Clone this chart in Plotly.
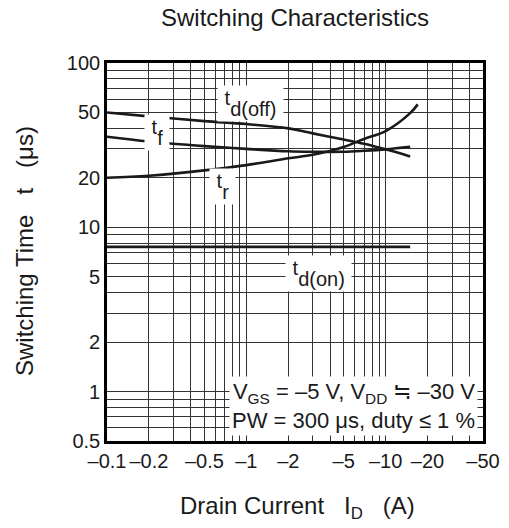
import math

import plotly.graph_objects as go

# |I_D| in A, switching times in microseconds
id_toff = [0.1, 0.2, 0.5, 1, 2, 3, 5, 7, 10, 15]
t_doff = [50, 47.3, 44.3, 42.5, 40, 37.3, 34.2, 32.2, 29.8, 27]

id_tf = [0.1, 0.2, 0.5, 1, 2, 3, 5, 7, 10, 15]
t_f = [35.6, 33.3, 31.2, 30.0, 29.0, 28.8, 28.8, 29.2, 29.8, 30.9]

id_tr = [0.1, 0.2, 0.5, 1, 2, 3, 5, 7, 10, 15, 17]
t_r = [20, 20.6, 22.2, 23.9, 26.3, 27.6, 30.8, 34.5, 38.5, 49.5, 56]

id_ton = [0.1, 15]
t_don = [7.6, 7.6]

x_grid = [0.1, 0.2, 0.3, 0.4, 0.5, 0.6, 0.7, 0.8, 0.9,
          1, 2, 3, 4, 5, 6, 7, 8, 9, 10, 20, 30, 40, 50]
x_labels = {0.1: "\u20130.1", 0.2: "\u20130.2", 0.5: "\u20130.5", 1: "\u20131",
            2: "\u20132", 5: "\u20135", 10: "\u201310", 20: "\u201320", 50: "\u201350"}
y_grid = [0.5, 0.6, 0.7, 0.8, 0.9, 1, 2, 3, 4, 5, 6, 7, 8, 9,
          10, 20, 30, 40, 50, 60, 70, 80, 90, 100]
y_labels = {0.5: "0.5", 1: "1", 2: "2", 5: "5", 10: "10", 20: "20", 50: "50", 100: "100"}

# curve subscripts and where their labels sit (I_D, t)
curve_subs = ["d(off)", "f", "r", "d(on)"]
label_at = [(1.07, 57.0), (0.23, 38.0), (0.67, 17.8), (3.3, 5.25)]

FONT = "Liberation Sans, Arial, sans-serif"
INK = "#1a1a1a"
LINE = dict(color=INK, width=2.6, shape="spline")


def curve_label(sub):
    # raised "t" followed by a full-size subscript, as in the datasheet;
    # the no-break spaces widen the white box that hides the grid
    s = "font-size:20px"
    return (f"<span style='{s}'>\u00a0</span>"
            f"<sup><span style='{s}'>t</span></sup>"
            f"<span style='{s}'>{sub}\u00a0</span>")


fig = go.Figure()
for xs, ys in [(id_toff, t_doff), (id_tf, t_f), (id_tr, t_r), (id_ton, t_don)]:
    fig.add_trace(go.Scatter(x=xs, y=ys, mode="lines", line=LINE, hoverinfo="skip"))

axis_common = dict(
    type="log",
    showgrid=True,
    gridcolor="#333333",
    gridwidth=1,
    showline=True,
    linecolor="black",
    linewidth=2.6,
    mirror=True,
    ticks="",
    tickmode="array",
    zeroline=False,
    automargin=False,
    tickfont=dict(family=FONT, size=20, color=INK),
)

fig.update_xaxes(
    range=[-1, math.log10(50)],
    tickvals=x_grid,
    ticktext=[x_labels.get(v, "") for v in x_grid],
    **axis_common,
)
fig.update_yaxes(
    range=[math.log10(0.5), 2],
    tickvals=y_grid,
    ticktext=[y_labels.get(v, "") for v in y_grid],
    **axis_common,
)

for sub, (x, y) in zip(curve_subs, label_at):
    # annotation positions on log axes are given in log10 units
    fig.add_annotation(x=math.log10(x), y=math.log10(y), xref="x", yref="y",
                       text=curve_label(sub), showarrow=False,
                       font=dict(family=FONT, size=26, color=INK),
                       bgcolor="white", borderpad=1)

fig.add_annotation(
    x=0.988, y=0.012, xref="x domain", yref="y domain",
    xanchor="right", yanchor="bottom", align="right",
    text="V<sub>GS</sub> = \u20135 V, V<sub>DD</sub> \u2252 \u201330 V<br>"
         "PW = 300 \u03bcs, duty \u2264 1 %",
    showarrow=False, font=dict(family=FONT, size=22, color=INK),
    bgcolor="white", borderpad=2,
)

# plot area spans page px x 107..483, y 63..441
fig.add_annotation(x=0.5, y=1 + (63 - 17) / 378, xref="paper", yref="paper",
                   yanchor="middle", text="Switching Characteristics", showarrow=False,
                   font=dict(family=FONT, size=24, color=INK))
fig.add_annotation(x=(24 - 107) / 376, y=(441 - 251) / 378, xref="paper", yref="paper",
                   text="Switching Time\u00a0\u00a0\u00a0t\u00a0\u00a0\u00a0(\u03bcs)",
                   textangle=-90, showarrow=False, xanchor="center", yanchor="middle",
                   font=dict(family=FONT, size=24, color=INK))
fig.add_annotation(x=(297 - 107) / 376, y=-(507 - 441) / 378, xref="paper", yref="paper",
                   text="Drain Current\u00a0\u00a0\u00a0I<sub>D</sub>\u00a0\u00a0\u00a0(A)",
                   showarrow=False, xanchor="center", yanchor="middle",
                   font=dict(family=FONT, size=24, color=INK))

# the page body adds an 8px offset, so margins are trimmed by that much
fig.update_layout(
    width=509,
    height=528,
    margin=dict(l=99, r=34, t=55, b=95),
    paper_bgcolor="white",
    plot_bgcolor="white",
    showlegend=False,
    font=dict(family=FONT, color=INK),
)

fig.write_html("out.html")
